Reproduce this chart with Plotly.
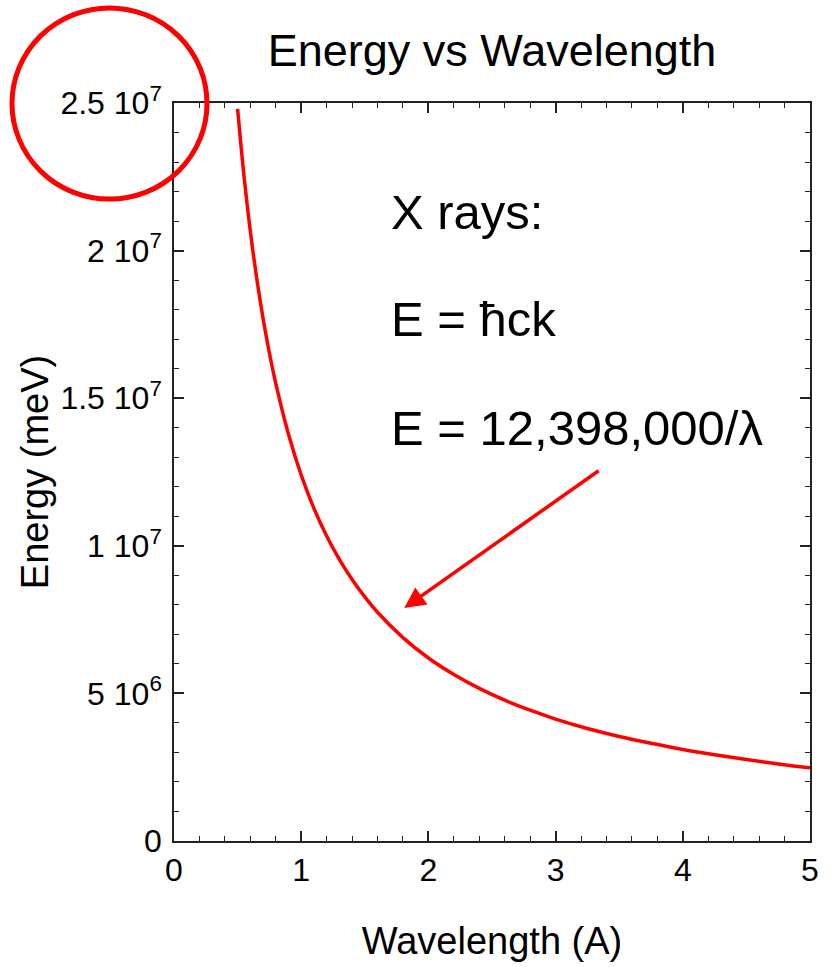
import plotly.graph_objects as go

# Data (wavelength in Angstrom, energy in meV)
wavelength = [0.5, 0.55, 0.6, 0.65, 0.7, 0.75, 0.8, 0.9, 1.0, 1.1, 1.2, 1.3, 1.4, 1.5,
              1.6, 1.8, 2.0, 2.2, 2.4, 2.6, 2.8, 3.0, 3.25, 3.5, 3.75, 4.0, 4.25, 4.5,
              4.75, 5.0]
energy = [24.80e6, 22.54e6, 20.66e6, 19.07e6, 17.71e6, 16.53e6, 15.50e6, 13.78e6,
          12.40e6, 11.27e6, 10.33e6, 9.54e6, 8.86e6, 8.27e6, 7.75e6, 6.89e6, 6.20e6,
          5.64e6, 5.17e6, 4.77e6, 4.43e6, 4.13e6, 3.81e6, 3.54e6, 3.31e6, 3.10e6,
          2.92e6, 2.76e6, 2.61e6, 2.48e6]

x_ticks = [0, 1, 2, 3, 4, 5]
y_tickvals = [0, 5e6, 1e7, 1.5e7, 2e7, 2.5e7]
y_ticktext = ["0", "5 10<sup>6</sup>", "1 10<sup>7</sup>", "1.5 10<sup>7</sup>",
              "2 10<sup>7</sup>", "2.5 10<sup>7</sup>"]

FONT = "Liberation Sans, Arial, Helvetica, sans-serif"
RED = "#ff0000"

fig = go.Figure()
fig.add_trace(go.Scatter(x=wavelength, y=energy, mode="lines",
                         line=dict(color=RED, width=3.5, shape="spline"),
                         showlegend=False, hoverinfo="skip"))

axis_common = dict(
    showgrid=False, zeroline=False, showline=True, linecolor="#222", linewidth=1.5,
    mirror="ticks", ticks="inside", ticklen=10, tickwidth=1.5, tickcolor="#222",
    tickfont=dict(family=FONT, size=32, color="black"),
)

fig.update_xaxes(
    range=[0, 5], tickvals=x_ticks, ticktext=[str(v) for v in x_ticks],
    minor=dict(dtick=0.2, ticks="inside", ticklen=5, tickwidth=1.2, tickcolor="#222"),
    title=dict(text="Wavelength (A)", font=dict(family=FONT, size=38, color="black"),
               standoff=40),
    **axis_common,
)
fig.update_yaxes(
    range=[0, 2.5e7], tickvals=y_tickvals, ticktext=y_ticktext,
    minor=dict(dtick=1e6, ticks="inside", ticklen=5, tickwidth=1.2, tickcolor="#222"),
    title=dict(text="Energy (meV)", font=dict(family=FONT, size=38, color="black"),
               standoff=0),
    ticklabelstandoff=4,
    **axis_common,
)

# Text annotations
fig.add_annotation(x=1.69, y=21.3e6, text="X rays:", showarrow=False, xanchor="left",
                   yanchor="middle", font=dict(family=FONT, size=49, color="black"))
fig.add_annotation(x=1.69, y=17.7e6, text="E = ħck", showarrow=False, xanchor="left",
                   yanchor="middle", font=dict(family=FONT, size=49, color="black"))
fig.add_annotation(x=1.69, y=14.0e6, text="E = 12,398,000/λ", showarrow=False,
                   xanchor="left", yanchor="middle",
                   font=dict(family=FONT, size=49, color="black"))

# Arrow
fig.add_annotation(x=1.81, y=7.89e6, ax=3.35, ay=12.58e6, axref="x", ayref="y",
                   xref="x", yref="y", text="", showarrow=True, arrowhead=2,
                   arrowsize=1.2, arrowwidth=3.5, arrowcolor=RED)

# Circle highlighting top tick label
fig.add_shape(type="circle", xref="paper", yref="paper",
              x0=(12 - 174) / 636, x1=(207 - 174) / 636,
              y0=(848 - 200) / 745, y1=(848 - 7) / 745,
              line=dict(color=RED, width=5), layer="above")

fig.update_layout(
    width=834, height=967,
    margin=dict(l=174, r=24, t=103, b=119, pad=0),
    paper_bgcolor="white", plot_bgcolor="white",
    title=dict(text="Energy vs Wavelength", x=0.59, xanchor="center", y=0.948,
               yanchor="middle", font=dict(family=FONT, size=45, color="black")),
)

fig.write_html("out.html")
